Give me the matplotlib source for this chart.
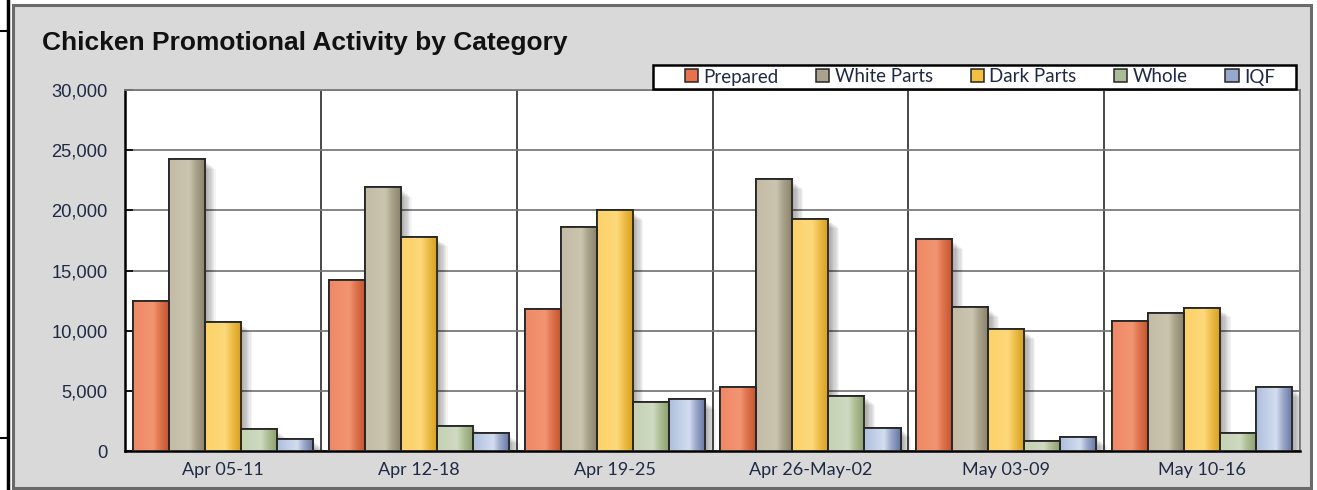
import numpy as np
import matplotlib
matplotlib.use("Agg")
import matplotlib.pyplot as plt
from matplotlib.patches import Rectangle
from matplotlib.lines import Line2D
import matplotlib.patheffects as pe
from matplotlib.colors import to_rgb
from matplotlib.ticker import FuncFormatter

# ---------------- data ----------------
weeks = ["Apr 05-11", "Apr 12-18", "Apr 19-25", "Apr 26-May-02", "May 03-09", "May 10-16"]
series_names = ["Prepared", "White Parts", "Dark Parts", "Whole", "IQF"]
prepared = [12500, 14200, 11800, 5300, 17600, 10800]
white_parts = [24250, 21900, 18600, 22600, 11950, 11500]
dark_parts = [10700, 17800, 20000, 19300, 10100, 11900]
whole = [1800, 2100, 4100, 4600, 800, 1500]
iqf = [1000, 1500, 4300, 1950, 1200, 5300]
y_ticks = [0, 5000, 10000, 15000, 20000, 25000, 30000]
title = "Chicken Promotional Activity by Category"

# gradient colors: (left, highlight, right edge), legend swatch color
grad_colors = [
    ("#ee8866", "#f39572", "#c2522c"),
    ("#c3bba5", "#cbc4af", "#877f66"),
    ("#fcd168", "#fdd97a", "#d69e1c"),
    ("#c4d1b3", "#cfdac1", "#8a9f6a"),
    ("#aebfdc", "#d3ddf0", "#6474a0"),
]
swatch_colors = ["#e8724c", "#aaa28c", "#f3c040", "#aabb98", "#98a8cc"]

W, H = 1317, 490
fig = plt.figure(figsize=(W / 100, H / 100), dpi=100)
fig.patch.set_facecolor("white")

def fx(px):
    return px / W

def fy(py):
    return 1 - py / H

# gray chart panel
panel = Rectangle((fx(13), fy(488)), fx(1311 - 13), (488 - 5) / H,
                  transform=fig.transFigure, facecolor="#d9d9d9",
                  edgecolor="#6a6a6a", linewidth=2.2, zorder=0)
fig.add_artist(panel)
# page border marks at far left
fig.add_artist(Line2D([fx(8), fx(8)], [0, 1], transform=fig.transFigure,
                      color="black", lw=2.5))
for yy in (31, 438):
    fig.add_artist(Line2D([0, fx(8)], [fy(yy), fy(yy)],
                          transform=fig.transFigure, color="black", lw=1.5))

ax = fig.add_axes([fx(125), fy(451), fx(1300 - 125), (451 - 90) / H])
ax.set_facecolor("white")

data = [prepared, white_parts, dark_parts, whole, iqf]
n = len(weeks)
x = np.arange(n)
bw = 0.184

def make_grad(cl, cm, cr, N=64):
    t = np.linspace(0, 1, N)
    stops = [0.0, 0.55, 0.72, 1.0]
    a, b, c = np.array(to_rgb(cl)), np.array(to_rgb(cm)), np.array(to_rgb(cr))
    cols = [a, b, np.clip((b + c) / 2 * 1.02, 0, 1), c]
    img = np.zeros((1, N, 3))
    for ch in range(3):
        img[0, :, ch] = np.interp(t, stops, [cc[ch] for cc in cols])
    return img

shadow_fx = [pe.SimplePatchShadow(offset=(1.5 + k * 0.9, -2 - k * 0.7),
                                  shadow_rgbFace="black", alpha=0.045)
             for k in range(8)]

for j, vals in enumerate(data):
    pos = x + (j - 2) * bw
    sh = ax.bar(pos, vals, width=bw, color="none", edgecolor="none", zorder=2)
    for r in sh:
        r.set_path_effects(shadow_fx)
    bars = ax.bar(pos, vals, width=bw, color=grad_colors[j][0],
                  edgecolor="#262626", linewidth=1.3, zorder=3,
                  label=series_names[j])
    img = make_grad(*grad_colors[j])
    for r in bars:
        x0, y0, w, h = r.get_x(), r.get_y(), r.get_width(), r.get_height()
        im = ax.imshow(img, extent=[x0, x0 + w, y0, y0 + h], aspect="auto",
                       interpolation="bilinear", zorder=3.5)
        im.set_clip_path(r)
        edge = Rectangle((x0, y0), w, h, facecolor="none", edgecolor="#262626",
                         linewidth=1.3, zorder=4)
        ax.add_patch(edge)

ax.set_xlim(-0.5, n - 0.5)
ax.set_ylim(0, 30000)
ax.set_yticks(y_ticks)
ax.yaxis.set_major_formatter(FuncFormatter(lambda v, p: f"{int(v):,}"))
ax.set_xticks(x)
ax.set_xticklabels(weeks)
ax.set_xticks(np.arange(n + 1) - 0.5, minor=True)

ax.set_axisbelow(True)
ax.yaxis.grid(True, color="#7a7a7a", linewidth=1.3)
ax.xaxis.grid(True, which="minor", color="#3a3a3a", linewidth=1.3)
ax.xaxis.grid(False, which="major")

ax.tick_params(axis="y", direction="in", length=6, width=1.2, color="black",
               pad=12.5, labelsize=13.2, labelcolor="#1f2a44")
ax.tick_params(axis="x", which="major", length=0, pad=8, labelsize=13,
               labelcolor="#1f2a44")
ax.tick_params(axis="x", which="minor", length=0)
for lab in ax.get_yticklabels():
    lab.set_fontfamily("Liberation Sans")
for lab in ax.get_xticklabels():
    lab.set_fontfamily("Lato")

for s in ("left", "bottom"):
    ax.spines[s].set_color("black")
    ax.spines[s].set_linewidth(1.8)
for s in ("top", "right"):
    ax.spines[s].set_color("#7a7a7a")
    ax.spines[s].set_linewidth(1.3)

fig.text(fx(42), fy(43), title, fontsize=19, fontweight="bold",
         family="Liberation Sans", color="#111111", va="center", ha="left")

# legend frame drawn separately
lf = Rectangle((fx(653), fy(89)), fx(1296 - 653), (89 - 65) / H,
               transform=fig.transFigure, facecolor="white",
               edgecolor="black", linewidth=1.8, zorder=5)
fig.add_artist(lf)

handles = [Rectangle((0, 0), 1, 1, facecolor=swatch_colors[j],
                     edgecolor="#262626", linewidth=1.1) for j in range(5)]
leg = fig.legend(handles, series_names, ncol=5, loc="center",
                 bbox_to_anchor=(fx(980), fy(77)),
                 frameon=False, handlelength=0.7, handleheight=0.7,
                 handletextpad=0.3, borderpad=0.0, borderaxespad=0,
                 columnspacing=2.0,
                 prop={"family": "Lato", "size": 13.5})
leg.set_zorder(6)
for t in leg.get_texts():
    t.set_color("#1f2a44")

fig.savefig("out.png", dpi=100, facecolor=fig.get_facecolor())
